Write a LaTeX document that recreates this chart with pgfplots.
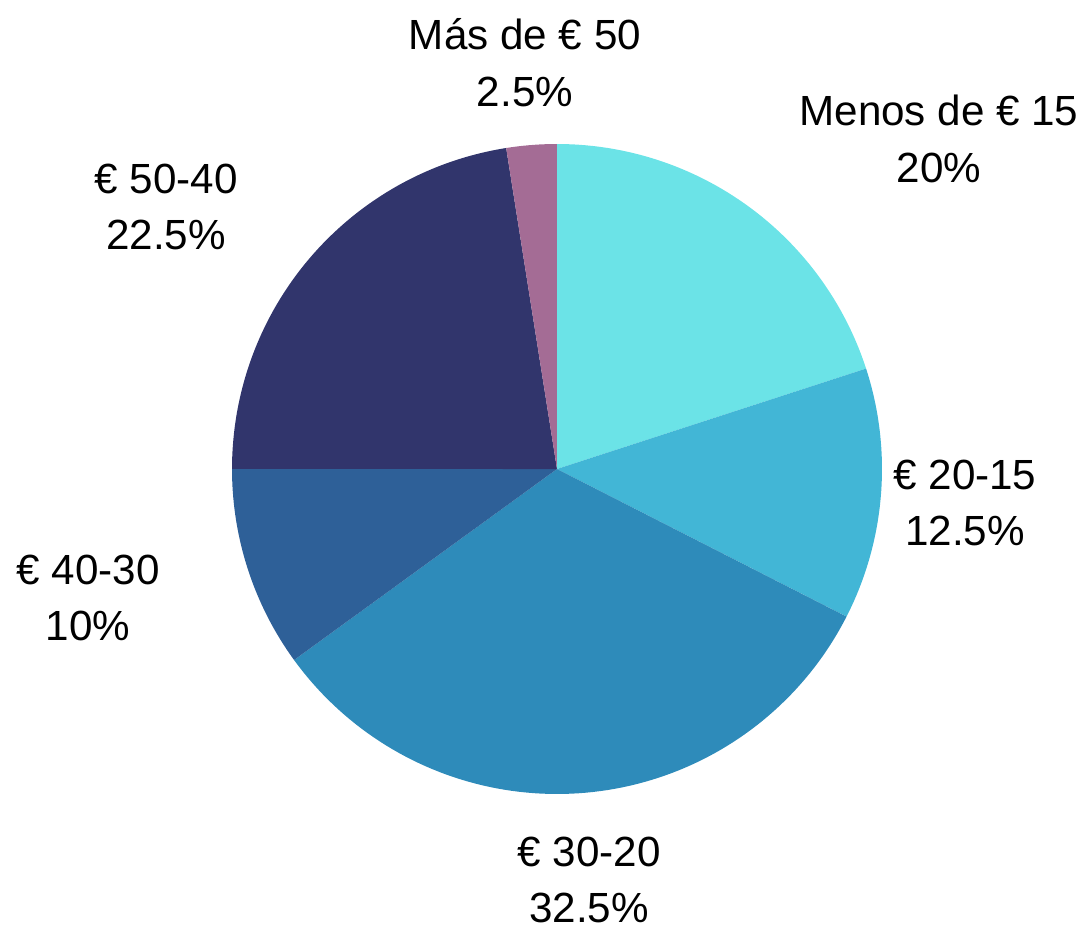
\documentclass[border=0pt]{standalone}
\usepackage{pgfplots}
\pgfplotsset{compat=1.18}
\usepackage{fontspec}
\setmainfont{Liberation Sans}

\definecolor{c1}{HTML}{6BE3E7}
\definecolor{c2}{HTML}{42B6D6}
\definecolor{c3}{HTML}{2E8BBA}
\definecolor{c4}{HTML}{2E6098}
\definecolor{c5}{HTML}{31356C}
\definecolor{c6}{HTML}{A46C95}

% slice: colour, cumulative % before, % of slice (clockwise from 12 o'clock)
\newcommand{\slice}[3]{%
  \addplot[fill=#1, draw=none, samples=90,
    domain={90-3.6*(#2+#3)}:{90-3.6*(#2)}]
    ({557+325*cos(x)},{462+325*sin(x)}) -- (axis cs:557,462) -- cycle;
}

\tikzset{lbl/.style={font=\fontsize{12}{16.2}\selectfont, align=center}}

\begin{document}
\begin{tikzpicture}
\begin{axis}[
  width=10.81cm, height=9.31cm, scale only axis,
  xmin=0, xmax=1081, ymin=0, ymax=931,
  hide axis, clip=false,
]
\slice{c1}{0}{20}
\slice{c2}{20}{12.5}
\slice{c3}{32.5}{32.5}
\slice{c4}{65}{10}
\slice{c5}{75}{22.5}
\slice{c6}{97.5}{2.5}

\node[lbl] at (axis cs:939,792) {Menos de € 15\\20\%};
\node[lbl] at (axis cs:965,428) {€ 20-15\\12.5\%};
\node[lbl] at (axis cs:589,51) {€ 30-20\\32.5\%};
\node[lbl] at (axis cs:88,333) {€ 40-30\\10\%};
\node[lbl] at (axis cs:166,724) {€ 50-40\\22.5\%};
\node[lbl] at (axis cs:525,868) {Más de € 50\\2.5\%};
\end{axis}
\pgfresetboundingbox
\path (current axis.south west) rectangle (current axis.north east);
\end{tikzpicture}
\end{document}
